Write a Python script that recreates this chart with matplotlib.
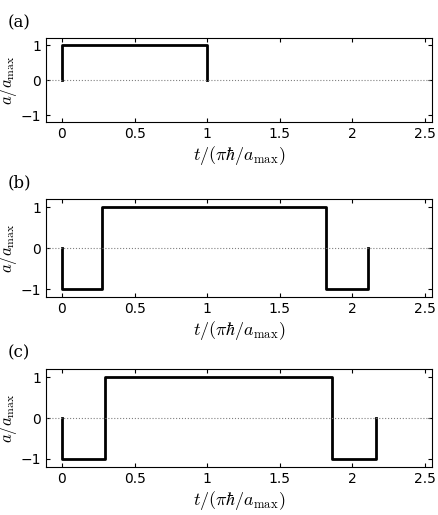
import matplotlib
matplotlib.use("Agg")
import matplotlib.pyplot as plt

plt.rcParams['mathtext.fontset'] = 'cm'
plt.rcParams['font.family'] = 'DejaVu Sans'

# switching times and amplitudes for each panel
t_a = [0, 0, 1.0, 1.0]
u_a = [0, 1, 1, 0]
t_b = [0, 0, 0.274, 0.274, 1.82, 1.82, 2.11, 2.11]
u_b = [0, -1, -1, 1, 1, -1, -1, 0]
t_c = [0, 0, 0.295, 0.295, 1.86, 1.86, 2.16, 2.16]
u_c = [0, -1, -1, 1, 1, -1, -1, 0]
labels = ['(a)', '(b)', '(c)']
xticks = [0, 0.5, 1, 1.5, 2, 2.5]
xticklabels = ['0', '0.5', '1', '1.5', '2', '2.5']
yticks = [-1, 0, 1]

fig = plt.figure(figsize=(4.38, 5.15), dpi=100)
rects = [[0.105, 0.763, 0.882, 0.163],
         [0.105, 0.423, 0.882, 0.190],
         [0.105, 0.093, 0.882, 0.190]]
for rect, t, u, lab in zip(rects, [t_a, t_b, t_c], [u_a, u_b, u_c], labels):
    ax = fig.add_axes(rect)
    ax.plot(t, u, color='black', lw=2)
    ax.axhline(0, color='gray', ls=':', lw=0.8)
    ax.set_xlim(-0.11, 2.55)
    ax.set_ylim(-1.2, 1.2)
    ax.set_xticks(xticks)
    ax.set_xticklabels(xticklabels)
    ax.set_yticks(yticks)
    ax.tick_params(labelsize=10, direction='in', top=True, right=True, length=3)
    ax.set_xlabel(r'$t/(\pi\hbar/a_{\max})$', fontsize=13, labelpad=2)
    ax.set_ylabel(r'$a/a_{\max}$', fontsize=12, labelpad=1)
    ax.text(-0.1, 1.08, lab, transform=ax.transAxes, fontsize=12, va='bottom',
            family='DejaVu Serif')

fig.savefig('out.png', dpi=100)
